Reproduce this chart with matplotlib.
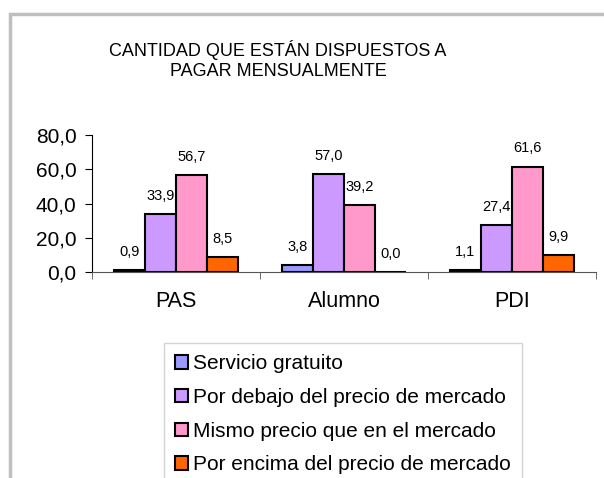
import matplotlib.pyplot as plt
from matplotlib.patches import Rectangle

plt.rcParams['font.family'] = ['Liberation Sans', 'DejaVu Sans']

# Data
categories = ['PAS', 'Alumno', 'PDI']
series = ['Servicio gratuito', 'Por debajo del precio de mercado',
          'Mismo precio que en el mercado', 'Por encima del precio de mercado']
servicio_gratuito = [0.9, 3.8, 1.1]
por_debajo = [33.9, 57.0, 27.4]
mismo_precio = [56.7, 39.2, 61.6]
por_encima = [8.5, 0.0, 9.9]
colors = ['#9999FF', '#CC99FF', '#FF99CC', '#FF6600']

values = [servicio_gratuito, por_debajo, mismo_precio, por_encima]

fig = plt.figure(figsize=(6.04, 4.78), dpi=100)
ax = fig.add_axes([92/604, 1 - 272/478, (596 - 92)/604, (272 - 135)/478])

bar_width = 0.185
x_positions = range(len(categories))
for i, (name, vals, col) in enumerate(zip(series, values, colors)):
    offs = (i - 1.5) * bar_width
    bars = ax.bar([p + offs for p in x_positions], vals, width=bar_width,
                  color=col, edgecolor='black', linewidth=1.5, label=name)
    for bar, v in zip(bars, vals):
        ax.annotate(f'{v:.1f}'.replace('.', ','),
                    (bar.get_x() + bar.get_width()/2, bar.get_height()),
                    xytext=(0, 8), textcoords='offset points',
                    ha='center', va='bottom', fontsize=10.5)

ax.set_xlim(-0.5, 2.5)
ax.set_ylim(0, 80)
ax.set_yticks([0, 20, 40, 60, 80])
ax.set_yticklabels([f'{t:.1f}'.replace('.', ',') for t in [0, 20, 40, 60, 80]], fontsize=15)
ax.set_xticks(list(x_positions))
ax.set_xticklabels(categories, fontsize=15.5)
ax.tick_params(axis='x', which='major', length=0, pad=14)
ax.set_xticks([-0.5, 0.5, 1.5, 2.5], minor=True)
ax.tick_params(axis='x', which='minor', length=5, direction='out', color='#555555')
ax.tick_params(axis='y', length=5, direction='out', pad=6)
for s in ['top', 'right']:
    ax.spines[s].set_visible(False)
ax.spines['bottom'].set_color('#555555')

fig.text(278/604, 1 - 60/478, 'CANTIDAD QUE ESTÁN DISPUESTOS A\nPAGAR MENSUALMENTE',
         ha='center', va='center', fontsize=13, linespacing=1.2)

leg = fig.legend(loc='upper left', bbox_to_anchor=(164/604, 1 - 343/478),
                 fontsize=15, frameon=True, fancybox=False, edgecolor='#c8c8c8',
                 handlelength=0.62, handleheight=0.62, handletextpad=0.2,
                 labelspacing=0.7, borderpad=0.55, borderaxespad=0)
leg.get_frame().set_linewidth(1)

fig.patches.append(Rectangle((10/604, -0.1), 1.2, 1.1 - 14/478, transform=fig.transFigure,
                             fill=False, edgecolor='#bfbfbf', linewidth=2.5))

fig.savefig('out.png', dpi=100)
